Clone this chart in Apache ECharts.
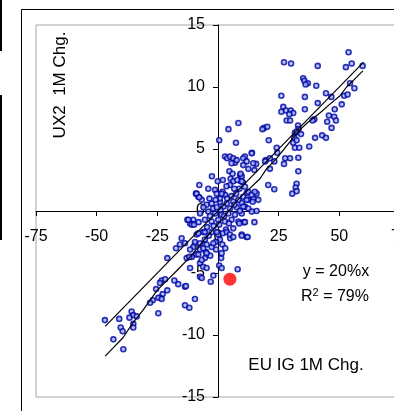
<!DOCTYPE html>
<html>
<head>
<meta charset="utf-8">
<script src="https://cdn.jsdelivr.net/npm/echarts@6/dist/echarts.min.js"></script>
<style>html,body{margin:0;padding:0;background:#fff;}#c{width:394px;height:411px;}</style>
</head>
<body>
<div id="c"></div>
<script>
// ---- data ----
const xTicks = [-75, -50, -25, 0, 25, 50, 75];
const yTicks = [-15, -10, -5, 0, 5, 10, 15];
const scatterPoints = [
[53.8,12.8],[27.2,12.0],[30.1,11.9],[41.1,11.7],[55.1,11.9],[52.7,11.6],[59.6,11.7],
[35.1,10.7],[35.6,10.5],[37.0,10.3],[36.1,10.2],[40.5,10.1],[54.4,10.3],[56.2,9.9],
[44.5,9.5],[46.7,9.2],[52.0,9.3],[53.4,9.4],[26.1,9.3],[35.8,9.2],[41.1,8.7],[51.0,8.6],
[26.9,8.4],[28.0,8.1],[26.1,8.0],[30.0,8.1],[31.0,7.9],[29.4,7.8],[35.8,8.2],[48.1,8.2],
[45.7,7.7],[47.9,7.6],[48.6,7.3],[45.0,7.2],[39.7,7.4],[39.0,7.3],[28.3,7.3],[29.7,7.3],
[33.0,6.9],[33.2,6.6],[46.8,6.7],[42.9,6.1],[44.5,5.9],[40.0,5.9],[37.6,5.2],
[31.7,6.3],[32.4,6.4],[34.2,6.2],[31.4,5.9],[31.0,5.5],[31.7,5.1],[33.5,5.1],[32.4,5.7],
[19.0,6.7],[20.3,6.8],[18.3,6.6],[20.9,5.7],[24.2,5.1],[24.4,4.7],[8.4,7.1],
[11.1,4.4],[14.0,4.7],[15.7,3.8],[12.5,3.4],[15.0,3.3],[9.1,2.9],[9.8,2.8],[9.4,2.4],[19.7,4.1],[21.4,3.4],
[23.2,4.0],[27.7,4.25],[29.7,4.25],[27.2,3.8],[33.1,4.3],[33.1,3.2],[32.4,2.2],[32.0,1.9],[30.6,1.4],[32.4,1.6],
[20.7,2.1],[23.2,1.75],[15.9,1.4],[14.5,1.0],[15.9,0.0],[15.0,-0.9],[10.7,-0.9],[10.3,2.3],[11.8,1.45],[10.4,1.15],
[12.5,0.9],[9.8,0.65],[11.1,0.35],[19.4,4.0],[21.4,4.25],
[4.3,6.6],[0.5,5.7],[7.4,5.5],[13.9,4.65],[2.9,4.4],[3.8,4.25],[4.9,4.4],[6.3,4.25],[7.0,3.9],[5.6,3.85],
[7.7,4.1],[10.4,4.25],[11.8,4.0],[10.4,3.7],[14.5,3.85],
[4.7,3.2],[6.0,3.0],[5.2,2.6],[6.3,2.4],[8.0,2.5],[9.3,3.0],[9.8,2.4],[8.8,1.8],[6.7,1.8],[4.9,2.1],
[-0.1,2.4],[1.9,1.55],[2.9,1.3],[-7.7,2.1],[-9.1,1.4],[-8.1,1.15],[-6.7,0.9],[-1.2,1.7],[-0.5,1.4],
[11.1,1.95],[12.5,1.55],[13.9,1.3],[15.2,1.55],[16.6,0.9],[14.3,0.75],[11.8,0.9],
[-4.7,0.5],[-2.6,0.6],[0.8,0.75],[3.6,0.6],[6.3,0.75],[8.4,0.9],[2.2,0.35],[4.9,0.2],[7.7,0.3],[10.4,0.35],
[12.5,0.2],[-4.0,-0.05],[-1.2,-0.2],[1.5,-0.3],[4.3,-0.2],[7.0,-0.3],[9.8,-0.2],[13.9,-0.05],[-7.4,-0.2],[-10.2,-0.7],
[-11.5,-1.0],[-5.4,-0.7],[-2.6,-0.85],[0.1,-0.7],[2.9,-0.85],[5.6,-0.7],[8.4,-0.85],[6.3,-1.4],[9.8,-1.9],[11.8,-2.1],
[3.3,-1.5],[0.1,-1.9],[0.8,-2.3],[-2.6,-1.7],[-6.1,-1.7],[-8.8,-1.9],[-5.4,-2.3],[-6.1,-2.7],[-9.5,-2.7],[-7.4,-3.1],
[-2.6,-2.9],[-15.0,-2.2],[-12.6,-0.7],[-10.8,-1.1],
[-8.8,1.4],[-7.7,1.1],[0.8,1.0],[1.5,1.4],[8.8,-1.0],[11.1,-0.9],[-9.9,-1.1],
[-3.5,1.0],[-2.0,0.2],[-1.0,0.9],[1.0,0.1],[2.5,-0.4],[3.8,1.0],[5.5,1.2],[6.8,0.5],[-6.0,0.3],[-3.3,-0.4],
[-1.8,-1.2],[0.5,-1.1],[2.0,-1.8],[4.5,-1.0],[-4.5,-1.3],[-8.0,-0.9],[-3.8,-2.0],[-1.0,-2.5],[1.8,-2.7],[-5.0,-3.3],
[3.5,2.0],[2.0,2.5],[-2.5,2.8],[-4.0,1.8],[7.5,1.4],[9.0,0.0],[5.0,-2.2],[3.0,-3.0],[-0.5,0.3],[1.3,-3.8],
[-3.2,-3.6],[-9.0,-3.5],
[-9.5,-2.5],[-7.4,-2.6],[-4.7,-2.7],[-1.9,-2.6],[-0.8,-3.1],[1.5,-3.4],[-4.7,-3.4],[-6.1,-3.0],[-10.2,-2.9],[-11.5,-3.1],
[-8.1,-3.5],[-5.4,-3.8],[-12.9,-3.8],[-10.8,-3.7],[-7.4,-4.2],[-6.7,-3.95],[-15.7,-2.7],[-13.6,-2.6],[0.5,-4.4],[1.5,-4.6],
[-6.1,-4.5],[-4.7,-4.6],[-11.5,-4.6],[-7.4,-5.3],[-6.7,-5.4],[-1.9,-5.2],[-3.0,-5.7],[8.1,-4.7],[-13.6,-6.1],[-9.5,-7.1],
[-13.6,-7.6],[-11.8,-7.8],
[-8.1,-1.8],[-5.4,-1.7],[-0.5,-1.7],[3.6,-1.7],[4.9,-1.9],[6.3,-2.1],[9.8,-2.0],[12.2,-2.1],
[-12.2,-0.7],[-17.3,-3.0],[-20.9,-3.8],[-11.8,-3.7],[-23.2,-5.6],[-21.8,-5.5],[-23.9,-5.8],[-18.0,-5.6],[-16.4,-5.9],[-13.2,-6.05],
[-25.5,-6.3],[-20.9,-6.4],[-22.8,-6.7],[-23.9,-7.0],[-24.6,-7.0],[-23.2,-7.1],[-26.9,-7.2],[-28.0,-7.4],[-24.6,-8.25],[-35.6,-8.1],
[-34.9,-8.4],[-36.5,-8.6],[-33.5,-8.5],[-34.9,-9.1],[-34.9,-9.4],[-40.7,-8.7],[-46.6,-8.8],[-40.1,-9.4],[-39.3,-9.7],[-43.1,-10.35],
[-39.0,-11.15]
];
const regressionLine = [[-46.5, -9.3], [60, 12.0]];
const fittedLine = [
[-46.5,-11.7],[-43,-11.0],[-39.1,-10.2],[-35,-9.0],[-30.9,-8.0],[-28,-7.2],[-25.1,-6.4],[-21,-5.6],[-16.9,-4.8],
[-11.5,-3.7],[-6,-2.4],[-2,-1.5],[2,-0.6],[6,0.4],[9.1,1.1],[13,1.8],[17.3,2.6],[20,3.4],[24,4.2],[29.7,5.6],
[33,6.4],[36.7,7.1],[42,7.9],[46,8.6],[50.3,9.3],[53,10.0],[55.6,10.5],[59.7,11.3]
];
const latestPoint = [[4.9, -5.5]];

const FONT = 'Liberation Sans, Arial, sans-serif';
const GRID_W = 364, GRID_H = 372;
const chart = echarts.init(document.getElementById('c'), null, {renderer: 'canvas'});
chart.setOption({
  animation: false,
  backgroundColor: '#fff',
  grid: {left: 36, top: 25, width: GRID_W, height: GRID_H, show: true, borderColor: '#a6a6a6', borderWidth: 1,
         backgroundColor: 'transparent', containLabel: false, outerBoundsMode: 'none'},
  xAxis: {
    type: 'value', min: xTicks[0], max: xTicks[xTicks.length - 1], interval: 25,
    position: 'bottom', offset: -GRID_H / 2,
    axisLine: {onZero: false, lineStyle: {color: '#000', width: 1}},
    axisTick: {show: true, length: 5, lineStyle: {color: '#000'}},
    axisLabel: {margin: 18, fontSize: 16, color: '#000', fontFamily: FONT, hideOverlap: false},
    splitLine: {show: false}
  },
  yAxis: {
    type: 'value', min: yTicks[0], max: yTicks[yTicks.length - 1], interval: 5,
    position: 'left', offset: -GRID_W / 2,
    axisLine: {onZero: false, lineStyle: {color: '#000', width: 1}},
    axisTick: {show: true, length: 5, lineStyle: {color: '#000'}},
    axisLabel: {margin: 13, fontSize: 16, color: '#000', fontFamily: FONT, hideOverlap: false},
    splitLine: {show: false}
  },
  series: [
    {type: 'scatter', data: scatterPoints, symbol: 'circle', symbolSize: 5,
     itemStyle: {color: '#9db8ff', borderColor: '#0000a0', borderWidth: 1.6}, silent: true},
    {type: 'line', data: regressionLine, showSymbol: false, lineStyle: {color: '#000', width: 1.2}, silent: true},
    {type: 'line', data: fittedLine, showSymbol: false, lineStyle: {color: '#000', width: 1.2}, silent: true},
    {type: 'scatter', data: latestPoint, symbol: 'circle', symbolSize: 13, itemStyle: {color: '#ff0000'}, z: 5, silent: true}
  ],
  graphic: [
    {type: 'rect', shape: {x: 21.5, y: 9.5, width: 420, height: 420}, style: {fill: 'none', stroke: '#000', lineWidth: 1}, silent: true},
    {type: 'line', shape: {x1: 1, y1: 0, x2: 1, y2: 51}, style: {stroke: '#000', lineWidth: 2}},
    {type: 'line', shape: {x1: 1, y1: 95, x2: 1, y2: 240}, style: {stroke: '#000', lineWidth: 2}},
    {type: 'text', x: 60, y: 85, rotation: Math.PI / 2,
     style: {text: 'UX2  1M Chg.', fontSize: 17, fontFamily: FONT, fill: '#000', align: 'center', verticalAlign: 'middle'}},
    {type: 'text', x: 306, y: 365,
     style: {text: 'EU IG 1M Chg.', fontSize: 17, fontFamily: FONT, fill: '#000', align: 'center', verticalAlign: 'middle'}},
    {type: 'text', x: 336, y: 272,
     style: {text: 'y = 20%x', fontSize: 16, fontFamily: FONT, fill: '#000', align: 'center', verticalAlign: 'middle'}},
    {type: 'text', x: 335, y: 297,
     style: {text: 'R{s|2} = 79%', fontSize: 16, fontFamily: FONT, fill: '#000', align: 'center', verticalAlign: 'middle',
       rich: {s: {fontSize: 11, fontFamily: FONT, verticalAlign: 'top', padding: [0, 0, 8, 0]}}}}
  ]
});
</script>
</body>
</html>
